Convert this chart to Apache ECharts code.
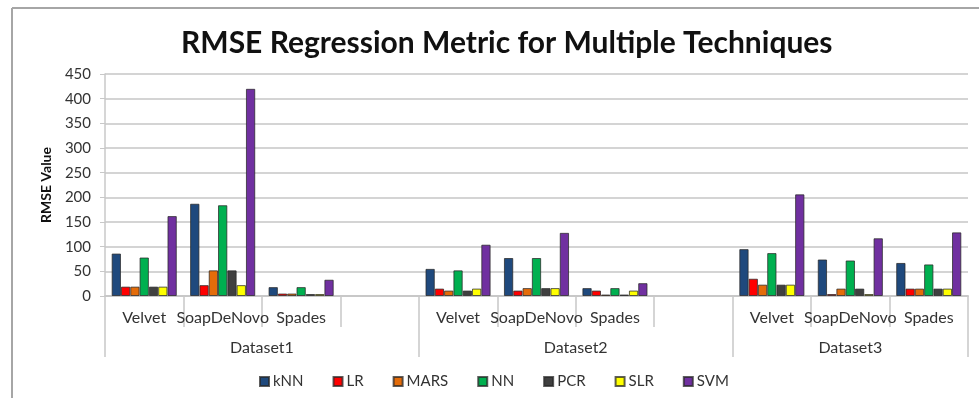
<!DOCTYPE html>
<html>
<head>
<meta charset="utf-8">
<title>RMSE Regression Metric for Multiple Techniques</title>
<script src="https://cdn.jsdelivr.net/npm/echarts@6/dist/echarts.min.js"></script>
<style>
  html, body { margin: 0; padding: 0; background: #ffffff; }
  #chart { width: 979px; height: 398px; }
</style>
</head>
<body>
<div id="chart"></div>
<script>
// Assemblers evaluated within each dataset, and the dataset groups
const assemblers = ['Velvet', 'SoapDeNovo', 'Spades'];
const datasets = ['Dataset1', 'Dataset2', 'Dataset3'];
const techniques = ['kNN', 'LR', 'MARS', 'NN', 'PCR', 'SLR', 'SVM'];
const yTicks = [0, 50, 100, 150, 200, 250, 300, 350, 400, 450];

// RMSE per technique: Dataset1 (Velvet, SoapDeNovo, Spades), Dataset2 (...), Dataset3 (...)
const kNN  = [86, 187, 18,   55, 77, 16,   95, 74, 67];
const LR   = [19, 22, 5,     15, 11, 11,   35, 4, 15];
const MARS = [19, 52, 5,     11, 16, 3,    23, 15, 15];
const NN   = [78, 184, 18,   52, 77, 16,   87, 72, 64];
const PCR  = [19, 52, 4,     11, 16, 3,    23, 15, 15];
const SLR  = [19, 22, 4,     15, 16, 11,   23, 4, 15];
const SVM  = [162, 420, 33,  104, 128, 26, 206, 117, 129];

const colors = ['#1F497D', '#FF0000', '#E46C0A', '#00B050', '#404040', '#FFFF00', '#7030A0'];
const seriesValues = [kNN, LR, MARS, NN, PCR, SLR, SVM];

// Category slots: each dataset's assemblers followed by an empty spacer slot (none after the last)
const slots = [];
const slotIndex = [];
datasets.forEach((d, di) => {
  assemblers.forEach((a) => {
    slotIndex.push(slots.length);
    slots.push(a);
  });
  if (di < datasets.length - 1) slots.push('');
});

function toSlots(values) {
  const out = slots.map(() => null);
  values.forEach((v, i) => { out[slotIndex[i]] = v; });
  return out;
}

// Outer axis for dataset groups: half-slot points, group boundaries and centres
const halfPoints = [];
for (let i = 0; i <= slots.length * 2; i++) halfPoints.push('');
const groupEdges = [0];
const groupCentres = [];
let pos = 0;
datasets.forEach((d, di) => {
  const width = assemblers.length + (di < datasets.length - 1 ? 1 : 0);
  groupCentres.push(pos + width);
  pos += width * 2;
  groupEdges.push(pos);
});
groupCentres.forEach((p, i) => { halfPoints[p] = datasets[i]; });

const chart = echarts.init(document.getElementById('chart'), null, { renderer: 'canvas' });

const labelFont = 'Lato, "Open Sans", sans-serif';

chart.setOption({
  backgroundColor: '#ffffff',
  animation: false,
  title: {
    text: 'RMSE Regression Metric for Multiple Techniques',
    left: 176,
    top: 23,
    textStyle: { fontFamily: labelFont, fontWeight: 'bold', fontSize: 30, color: '#111111' }
  },
  legend: {
    data: techniques,
    left: 254,
    top: 369,
    itemWidth: 9,
    itemHeight: 9,
    itemGap: 29,
    icon: 'rect',
    textStyle: { fontFamily: labelFont, fontSize: 15, color: '#333333', padding: [0, 0, 0, -1] }
  },
  grid: { left: 105, right: 11, top: 74, bottom: 102, containLabel: false },
  xAxis: [
    {
      type: 'category',
      position: 'bottom',
      data: slots,
      axisLine: { show: true, lineStyle: { color: '#c8c8c8', width: 2 } },
      axisTick: { show: true, length: 31, alignWithLabel: false, lineStyle: { color: '#c8c8c8', width: 1.5 } },
      axisLabel: { interval: 0, margin: 14, fontFamily: labelFont, fontSize: 16, color: '#333333' },
      splitLine: { show: false }
    },
    {
      type: 'category',
      position: 'bottom',
      boundaryGap: false,
      data: halfPoints,
      axisLine: { show: false },
      axisTick: {
        show: true,
        length: 61,
        interval: (idx) => groupEdges.indexOf(idx) >= 0,
        lineStyle: { color: '#c8c8c8', width: 1.5 }
      },
      axisLabel: {
        interval: (idx) => groupCentres.indexOf(idx) >= 0,
        margin: 44,
        fontFamily: labelFont,
        fontSize: 16,
        color: '#333333'
      },
      splitLine: { show: false }
    }
  ],
  yAxis: {
    type: 'value',
    min: 0,
    max: 450,
    interval: 50,
    name: 'RMSE Value',
    nameLocation: 'middle',
    nameGap: 52,
    nameTextStyle: { fontFamily: labelFont, fontWeight: 'bold', fontSize: 14, color: '#111111' },
    axisLine: { show: true, lineStyle: { color: '#c8c8c8', width: 1.5 } },
    axisTick: { show: true, length: 5, lineStyle: { color: '#c8c8c8' } },
    axisLabel: {
      margin: 14,
      fontFamily: labelFont,
      fontSize: 15,
      color: '#333333',
      formatter: (v) => (yTicks.indexOf(v) >= 0 ? String(v) : '')
    },
    splitLine: { show: true, lineStyle: { color: '#d4d4d4', width: 2 } }
  },
  series: techniques.map((name, i) => ({
    name: name,
    type: 'bar',
    xAxisIndex: 0,
    data: toSlots(seriesValues[i]),
    barGap: '0%',
    barCategoryGap: '17%',
    itemStyle: { color: colors[i], borderColor: 'rgba(40,40,40,0.75)', borderWidth: 1 }
  })),
  graphic: [
    { type: 'line', shape: { x1: 12, y1: 8, x2: 979, y2: 8 }, style: { stroke: '#a6a6a6', lineWidth: 2 } },
    { type: 'line', shape: { x1: 12, y1: 8, x2: 12, y2: 398 }, style: { stroke: '#a6a6a6', lineWidth: 2 } }
  ]
});
</script>
</body>
</html>
